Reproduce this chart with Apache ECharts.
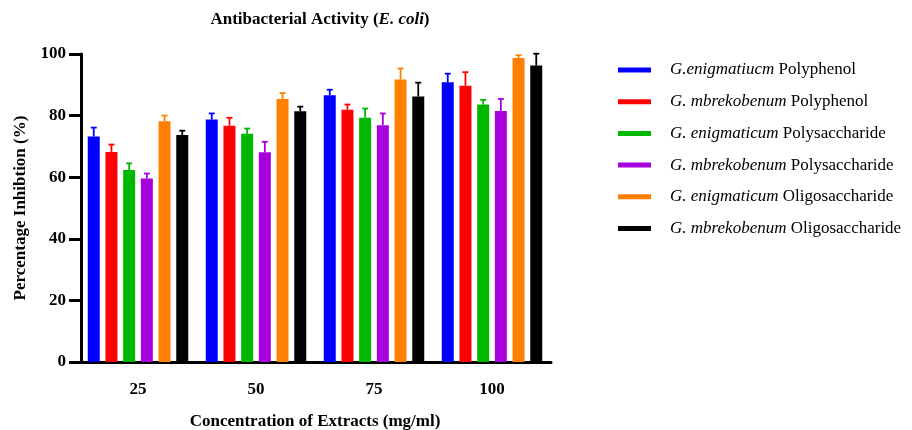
<!DOCTYPE html>
<html>
<head>
<meta charset="utf-8">
<script src="https://cdn.jsdelivr.net/npm/echarts@6/dist/echarts.min.js"></script>
<style>html,body{margin:0;padding:0;background:#fff;}#c{width:912px;height:430px;}</style>
</head>
<body>
<div id="c"></div>
<script>
const categories = ['25', '50', '75', '100'];
const speciesNames = ['G.enigmatiucm', 'G. mbrekobenum', 'G. enigmaticum', 'G. mbrekobenum', 'G. enigmaticum', 'G. mbrekobenum'];
const extractNames = ['Polyphenol', 'Polyphenol', 'Polysaccharide', 'Polysaccharide', 'Oligosaccharide', 'Oligosaccharide'];
const colors = ['#0000ff', '#ff0000', '#00b800', '#a600dd', '#ff8000', '#000000'];
const genPolyphenol = [73.2, 78.7, 86.6, 90.8];
const genPolyphenolErr = [2.9, 2.0, 1.8, 2.8];
const mbrPolyphenol = [68.2, 76.7, 81.9, 89.7];
const mbrPolyphenolErr = [2.4, 2.6, 1.7, 4.4];
const genPolysaccharide = [62.3, 74.1, 79.3, 83.6];
const genPolysaccharideErr = [2.2, 1.7, 3.0, 1.5];
const mbrPolysaccharide = [59.6, 68.1, 76.9, 81.5];
const mbrPolysaccharideErr = [1.6, 3.4, 3.8, 3.9];
const genOligosaccharide = [78.2, 85.4, 91.7, 98.7];
const genOligosaccharideErr = [1.8, 1.9, 3.6, 0.9];
const mbrOligosaccharide = [73.7, 81.4, 86.2, 96.3];
const mbrOligosaccharideErr = [1.4, 1.5, 4.5, 3.8];
const yTicks = [0, 20, 40, 60, 80, 100];

const values = [genPolyphenol, mbrPolyphenol, genPolysaccharide, mbrPolysaccharide, genOligosaccharide, mbrOligosaccharide];
const errors = [genPolyphenolErr, mbrPolyphenolErr, genPolysaccharideErr, mbrPolysaccharideErr, genOligosaccharideErr, mbrOligosaccharideErr];
const seriesNames = speciesNames.map((s, i) => s + ' ' + extractNames[i]);

const FONT = '"Liberation Serif", "DejaVu Serif", serif';
const FS = 17;
const BAR_W = 12, BAR_GAP = 5.7;
const nBars = values.length;
const totalW = nBars * BAR_W + (nBars - 1) * BAR_GAP;

const series = [];
values.forEach((v, i) => {
  series.push({
    name: seriesNames[i], type: 'bar', data: v, barWidth: BAR_W,
    barGap: (BAR_GAP / BAR_W * 100) + '%', barCategoryGap: '14%',
    itemStyle: { color: colors[i] }, z: 2
  });
});
values.forEach((v, i) => {
  series.push({
    name: 'err' + i, type: 'custom', z: 3,
    data: v.map((val, k) => [k, val, errors[i][k]]),
    renderItem: function (params, api) {
      const c = api.value(0), val = api.value(1), e = api.value(2);
      const p0 = api.coord([c, val]);
      const p1 = api.coord([c, val + e]);
      const x = p0[0] - totalW / 2 + i * (BAR_W + BAR_GAP) + BAR_W / 2;
      const st = { stroke: colors[i], lineWidth: 1.8 };
      return { type: 'group', children: [
        { type: 'line', shape: { x1: x, y1: p0[1], x2: x, y2: p1[1] }, style: st },
        { type: 'line', shape: { x1: x - 3, y1: p1[1], x2: x + 3, y2: p1[1] }, style: st }
      ] };
    }
  });
});

const chart = echarts.init(document.getElementById('c'));
chart.setOption({
  animation: false,
  backgroundColor: '#fff',
  title: {
    text: '{b|Antibacterial Activity (}{bi|E. coli}{b|)}',
    left: 315, top: 6, textAlign: 'center',
    textStyle: { fontFamily: FONT, rich: {
      b: { fontFamily: FONT, fontSize: FS, fontWeight: 'bold', color: '#000' },
      bi: { fontFamily: FONT, fontSize: FS, fontWeight: 'bold', fontStyle: 'italic', color: '#000' }
    } }
  },
  legend: {
    data: seriesNames, orient: 'vertical', left: 618, top: 60, padding: 0,
    icon: 'rect', itemWidth: 33, itemHeight: 5, itemGap: 11.7,
    formatter: function (name) {
      const i = seriesNames.indexOf(name);
      return '{i|' + speciesNames[i] + '} {n|' + extractNames[i] + '}';
    },
    textStyle: {
      fontFamily: FONT, fontSize: FS, color: '#000',
      padding: [0, 0, 0, 14], lineHeight: 20,
      rich: {
        i: { fontFamily: FONT, fontSize: FS, fontStyle: 'italic', color: '#000', lineHeight: 20 },
        n: { fontFamily: FONT, fontSize: FS, color: '#000', lineHeight: 20 }
      }
    }
  },
  grid: { left: 79, top: 54, width: 472, height: 308, containLabel: false, outerBoundsMode: 'none' },
  xAxis: {
    type: 'category', data: categories,
    name: 'Concentration of Extracts (mg/ml)', nameLocation: 'middle', nameGap: 51,
    nameTextStyle: { fontFamily: FONT, fontSize: FS, fontWeight: 'bold', color: '#000' },
    axisLine: { lineStyle: { color: '#000', width: 3 } },
    axisTick: { alignWithLabel: true, length: 11, lineStyle: { color: '#000', width: 3 } },
    axisLabel: { fontFamily: FONT, fontSize: FS, fontWeight: 'bold', color: '#000', margin: 19 }
  },
  yAxis: {
    type: 'value', min: 0, max: 100, interval: 20, offset: -2,
    name: 'Percentage Inhibtion (%)', nameLocation: 'middle', nameGap: 37, nameRotate: 90,
    nameTextStyle: { fontFamily: FONT, fontSize: FS, fontWeight: 'bold', color: '#000' },
    axisLine: { show: true, lineStyle: { color: '#000', width: 3 } },
    axisTick: { show: true, length: 12, lineStyle: { color: '#000', width: 3 } },
    axisLabel: { fontFamily: FONT, fontSize: FS, fontWeight: 'bold', color: '#000', margin: 15,
      formatter: function (v) { return yTicks.indexOf(v) >= 0 ? String(v) : ''; } },
    splitLine: { show: false }
  },
  series: series
});
</script>
</body>
</html>
